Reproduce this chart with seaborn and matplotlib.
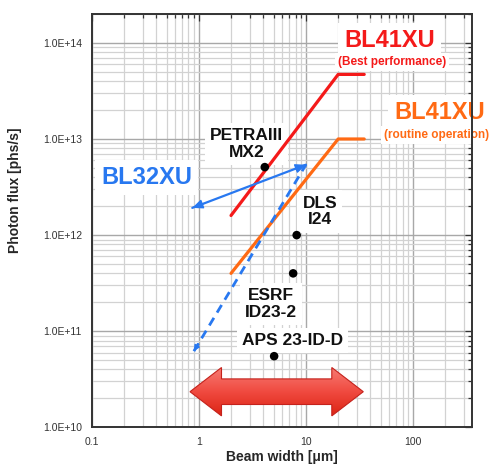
import numpy as np
import pandas as pd
import matplotlib
matplotlib.use("Agg")
import matplotlib.pyplot as plt
from matplotlib.patches import Polygon
from matplotlib.ticker import FuncFormatter, LogLocator, FixedLocator
from matplotlib.colors import LinearSegmentedColormap
import seaborn as sns

# ---------------- data ----------------
best_x = [2, 20, 35]
best_y = [1.6e12, 4.7e13, 4.7e13]
routine_x = [2, 20, 35]
routine_y = [4.0e11, 1.0e13, 1.0e13]
bl32_solid_x = [10, 0.87]
bl32_solid_y = [5.4e12, 1.92e12]
bl32_dash_x = [0.90, 10]
bl32_dash_y = [6.2e10, 5.4e12]
other_names = ["PETRAIII\nMX2", "DLS\nI24", "ESRF\nID23-2", "APS 23-ID-D"]
other_x = [4.13, 8.2, 7.6, 5.05]
other_y = [5.1e12, 1.0e12, 4.0e11, 5.5e10]
x_ticks = [0.1, 1, 10, 100]
y_ticks = [1e10, 1e11, 1e12, 1e13, 1e14]

RED = "#f41a1a"
ORANGE = "#ff6a14"
BLUE = "#2878f0"

sns.set_style("white")
plt.rcParams["font.family"] = ["Liberation Sans", "DejaVu Sans"]

fig = plt.figure(figsize=(4.9, 4.65), dpi=100)
ax = fig.add_axes([0.187, 0.081, 0.7755, 0.889])
ax.set_xscale("log")
ax.set_yscale("log")
ax.set_xlim(0.1, 352)
ax.set_ylim(1e10, 2e14)

# grid
ax.xaxis.set_major_locator(FixedLocator(x_ticks))
ax.yaxis.set_major_locator(FixedLocator(y_ticks))
ax.xaxis.set_minor_locator(LogLocator(base=10, subs=np.arange(2, 10), numticks=20))
ax.yaxis.set_minor_locator(LogLocator(base=10, subs=np.arange(2, 10), numticks=20))
ax.grid(True, which="major", color="#a8a8a8", lw=1.0, zorder=0)
ax.grid(True, which="minor", color="#d2d2d2", lw=0.9, zorder=0)
ax.set_axisbelow(True)

ax.xaxis.set_major_formatter(FuncFormatter(lambda v, p: f"{v:g}"))
ax.yaxis.set_major_formatter(FuncFormatter(lambda v, p: f"{v:.1E}"))
ax.xaxis.set_minor_formatter(FuncFormatter(lambda v, p: ""))
ax.yaxis.set_minor_formatter(FuncFormatter(lambda v, p: ""))
ax.tick_params(which="both", direction="in", top=True, right=True,
               colors="#333333", labelsize=7.5, width=0.9)
ax.tick_params(which="major", length=5, pad=7)
ax.tick_params(which="minor", length=3)
for s in ax.spines.values():
    s.set_color("#333333")
    s.set_linewidth(1.4)
    s.set_visible(True)

# lines
sns.lineplot(x=best_x, y=best_y, ax=ax, color=RED, lw=2.3, sort=False, estimator=None, zorder=3)
sns.lineplot(x=routine_x, y=routine_y, ax=ax, color=ORANGE, lw=2.3, sort=False, estimator=None, zorder=3)
sns.lineplot(x=bl32_solid_x, y=bl32_solid_y, ax=ax, color=BLUE, lw=1.6, sort=False, estimator=None, zorder=3)
sns.lineplot(x=bl32_dash_x, y=bl32_dash_y, ax=ax, color=BLUE, lw=2.0, sort=False,
             estimator=None, zorder=3, linestyle=(0, (3.2, 2.2)))


def toward(p, q, f):
    lx = np.log10(p[0]) + (np.log10(q[0]) - np.log10(p[0])) * f
    ly = np.log10(p[1]) + (np.log10(q[1]) - np.log10(p[1])) * f
    return (10 ** lx, 10 ** ly)


def head(p, q, hl=0.8, hw=0.35, ms=8):
    ax.annotate("", xy=p, xytext=q, xycoords="data", textcoords="data",
                arrowprops=dict(arrowstyle=f"-|>,head_length={hl},head_width={hw}",
                                color=BLUE, lw=1.0, mutation_scale=ms,
                                shrinkA=0, shrinkB=0),
                zorder=4, annotation_clip=False)


p_left = (bl32_solid_x[1], bl32_solid_y[1])
p_top = (bl32_solid_x[0], bl32_solid_y[0])
p_bot = (bl32_dash_x[0], bl32_dash_y[0])
head(p_left, toward(p_left, p_top, 0.1))
head(p_top, toward(p_top, p_left, 0.1))
head(p_bot, toward(p_bot, p_top, 0.04), hl=0.5, hw=0.25, ms=7)

# points
sns.scatterplot(x=other_x, y=other_y, ax=ax, color="black", s=38, edgecolor="none", zorder=5)

# labels
wb = dict(boxstyle="square,pad=0.25", fc="white", ec="none")
ax.text(60, 1.07e14, "BL41XU", color=RED, fontsize=17, fontweight="bold",
        ha="center", va="center", bbox=wb, zorder=2.5)
ax.text(63.6, 6.3e13, "(Best performance)", color=RED, fontsize=8.5, fontweight="bold",
        ha="center", va="center", bbox=wb, zorder=2.5)
ax.text(177, 1.88e13, "BL41XU", color=ORANGE, fontsize=17, fontweight="bold",
        ha="center", va="center", bbox=wb, zorder=2.5, clip_on=False)
ax.text(165, 1.11e13, "(routine operation)", color=ORANGE, fontsize=8.5, fontweight="bold",
        ha="center", va="center", bbox=wb, zorder=2.5, clip_on=False)
ax.text(0.326, 3.95e12, "BL32XU", color=BLUE, fontsize=17, fontweight="bold",
        ha="center", va="center", bbox=wb, zorder=2.5)

label_pos = [(2.78, 8.8e12), (13.5, 1.76e12), (4.73, 1.93e11), (7.47, 7.96e10)]
for name, (tx, ty) in zip(other_names, label_pos):
    ax.text(tx, ty, name, color="#111111", fontsize=12.5, fontweight="bold",
            ha="center", va="center", linespacing=1.15,
            bbox=dict(boxstyle="square,pad=0.3", fc="white", ec="none"), zorder=2.5)

ax.set_xlabel("Beam width [\u03bcm]", fontsize=10, fontweight="bold", va="center")
ax.xaxis.set_label_coords(0.5, -0.0715)
ax.set_ylabel("Photon flux [phs/s]", fontsize=10, fontweight="bold")
ax.yaxis.set_label_coords(-0.183, 0.574)

# big double arrow with gradient (overlay in pixel coords)
ov = fig.add_axes([0, 0, 1, 1], facecolor="none")
ov.axis("off")
xl, xr, yc = 190, 363.3, 391.7
hl, hh, sh = 31.5, 24.2, 12.8
pts = [(xl, yc), (xl + hl, yc - hh), (xl + hl, yc - sh), (xr - hl, yc - sh),
       (xr - hl, yc - hh), (xr, yc), (xr - hl, yc + hh), (xr - hl, yc + sh),
       (xl + hl, yc + sh), (xl + hl, yc + hh)]
poly = Polygon(pts, closed=True, fc="none", ec="#c4221c", lw=0.8, zorder=3)
ov.add_patch(poly)
grad = np.linspace(0, 1, 256).reshape(-1, 1)
cm = LinearSegmentedColormap.from_list("g", ["#f77c74", "#f04a40", "#dc2414"])
im = ov.imshow(grad, cmap=cm, extent=[xl, xr, yc + hh, yc - hh], aspect="auto",
               origin="upper", zorder=2)
im.set_clip_path(poly)
ov.set_xlim(0, 490)
ov.set_ylim(465, 0)

fig.savefig("out.png", dpi=100, facecolor="white")
